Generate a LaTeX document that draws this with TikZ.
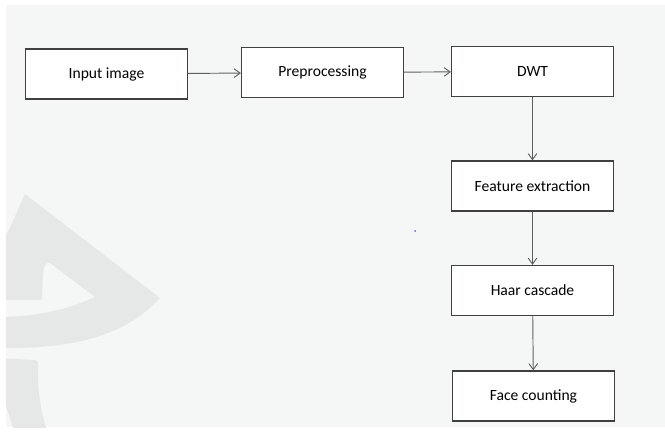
\documentclass[tikz,border=0pt]{standalone}
\usepackage{fontspec}
\setmainfont{Carlito}
\usetikzlibrary{arrows.meta}
\definecolor{pagebg}{RGB}{245,247,247}
\definecolor{markgray}{RGB}{230,232,232}
\definecolor{boxline}{RGB}{64,64,64}
\definecolor{arrowline}{RGB}{95,95,95}

\begin{document}
\begin{tikzpicture}[
  stage/.style={draw=boxline, fill=white, line width=1.1pt, minimum width=4.86cm, minimum height=1.50cm, inner sep=2pt, font=\fontsize{13.3}{16}\selectfont},
  flow/.style={-{Straight Barb[length=1.8mm,width=2.6mm]}, draw=arrowline, line width=0.8pt}
]
\useasboundingbox (0,0) rectangle (19.95,-12.96);

% Background panel and faint watermark
\fill[pagebg] (0.18,-0.15) rectangle (19.95,-12.81);
\begin{scope}
  \clip (0.18,-0.15) rectangle (19.95,-12.81);
  \fill[markgray, even odd rule]
    (-0.2,-7.65) .. controls (0.3,-7.0) and (0.55,-6.2) .. (0.75,-5.82)
    -- (4.80,-8.94) .. controls (3.9,-9.9) and (2.6,-10.5) .. (-0.2,-10.44) -- cycle
    (0,-9.0) -- (1.20,-9.0) .. controls (1.27,-8.95) .. (1.26,-8.85)
    -- (1.29,-8.25) .. controls (1.32,-7.95) and (1.38,-7.85) .. (1.50,-7.89)
    -- (2.85,-8.91) .. controls (2.2,-9.2) and (1.3,-9.5) .. (0,-9.51) -- cycle;
  \fill[markgray]
    (-0.2,-10.74) -- (1.05,-10.80) .. controls (1.15,-10.85) .. (1.14,-10.98)
    .. controls (1.12,-11.8) and (1.25,-12.5) .. (1.45,-13.0)
    -- (0.45,-13.0) .. controls (0.3,-12.5) and (0.05,-11.8) .. (-0.2,-11.2) -- cycle;
\end{scope}
\fill[blue!60] (12.45,-6.93) circle (0.03);

% Row 1: input to transform
\node[stage] (input) at (3.195,-2.22) {Input image};
\node[stage] (prep) at (9.675,-2.175) {Preprocessing};
\node[stage] (dwt) at (15.975,-2.145) {DWT};

% Column: detection and counting
\node[stage] (feat) at (15.975,-5.58) {Feature extraction};
\node[stage] (haar) at (15.975,-8.715) {Haar cascade};
\node[stage] (count) at (16.005,-11.88) {Face counting};

\draw[flow] (input) -- (prep);
\draw[flow] (prep) -- (dwt);
\draw[flow] (dwt) -- (feat);
\draw[flow] (feat) -- (haar);
\draw[flow] (haar) -- (count);
\end{tikzpicture}
\end{document}
